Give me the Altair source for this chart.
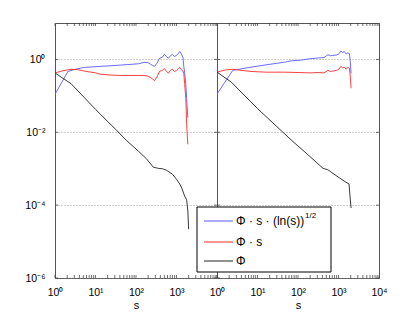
import altair as alt
import pandas as pd

# ---------------- data ----------------
# Left panel
L_blue_s = [1, 2.09, 3.16, 5.25, 13.8, 36.3, 63.1, 115, 158, 200, 251, 288, 331, 380, 447, 501, 562, 631,
            708, 794, 891, 1000, 1122, 1202, 1318, 1445, 1514, 1585, 1698, 1778, 1905]
L_blue_v = [0.110, 0.468, 0.537, 0.603, 0.646, 0.692, 0.724, 0.759, 0.832, 0.813, 0.692, 0.646, 0.794, 1.072,
            1.148, 1.380, 1.202, 1.072, 1.259, 1.380, 1.202, 1.288, 1.479, 1.660, 1.413, 1.122, 0.646, 0.447,
            0.209, 0.0851, 0.0251]
L_red_s = [1, 1.58, 2.51, 3.55, 5.25, 10, 13.8, 25.1, 36.3, 63.1, 115, 158, 200, 251, 288, 331, 380, 447,
           501, 562, 631, 708, 794, 891, 1000, 1122, 1202, 1318, 1445, 1514, 1585, 1698, 1778, 1905]
L_red_v = [0.427, 0.490, 0.537, 0.525, 0.479, 0.427, 0.389, 0.372, 0.363, 0.363, 0.363, 0.363, 0.347, 0.295,
           0.263, 0.331, 0.468, 0.501, 0.562, 0.479, 0.417, 0.501, 0.537, 0.468, 0.501, 0.562, 0.603, 0.525,
           0.479, 0.417, 0.219, 0.0851, 0.0166, 0.00468]
L_black_s = [1, 2.51, 10, 24.5, 31.6, 57.5, 115, 178, 269, 363, 447, 562, 794, 1000, 1202, 1349, 1585, 1778,
             1905, 1995]
L_black_v = [0.427, 0.214, 0.0427, 0.0158, 0.0120, 0.00603, 0.00302, 0.00191, 0.00110, 0.00102, 0.00100,
             0.000912, 0.000708, 0.000513, 0.000380, 0.000295, 0.000178, 0.000141, 0.0000692, 0.0000219]

# Right panel
R_blue_s = [1, 2.45, 6.31, 18.2, 44.7, 67.6, 117, 200, 316, 437, 550, 631, 724, 891, 1000, 1148, 1259, 1380,
            1549, 1698, 1862, 1950, 2042]
R_blue_v = [0.112, 0.501, 0.603, 0.724, 0.832, 0.912, 0.955, 1.047, 1.096, 1.122, 1.349, 1.259, 1.288, 1.318,
            1.380, 1.698, 1.549, 1.660, 1.413, 1.514, 1.445, 0.891, 0.417]
R_red_s = [1, 1.58, 2.45, 3.98, 6.92, 15.8, 44.7, 100, 200, 316, 437, 550, 631, 724, 891, 1000, 1148, 1259,
           1380, 1549, 1698, 1862, 1950, 2042]
R_red_v = [0.447, 0.513, 0.537, 0.501, 0.468, 0.447, 0.447, 0.437, 0.427, 0.437, 0.427, 0.501, 0.468, 0.479,
           0.501, 0.525, 0.646, 0.589, 0.617, 0.537, 0.603, 0.575, 0.355, 0.162]
R_black_s = [1, 2.24, 10, 67.6, 158, 417, 550, 776, 1380, 1820, 1905, 2042]
R_black_v = [0.447, 0.240, 0.0447, 0.00617, 0.00269, 0.00102, 0.000933, 0.000708, 0.000457, 0.000380,
             0.000200, 0.0000832]

# axis ticks / labels
x_major = [1, 10, 100, 1000, 10000]
x_minor = [k * 10 ** e for e in range(4) for k in range(2, 10)]
y_major = [1e-6, 1e-4, 1e-2, 1]
legend_labels = ["Φ · s · (ln(s))", "Φ · s", "Φ"]
legend_sup = "1/2"
x_title = "s"

# ---------------- styling ----------------
FONT = "Liberation Sans"
W, H = 162, 255
COLORS = ["#5a5aff", "#ff2a2a", "#222222"]
TL = 3  # inner tick length

xscale = alt.Scale(type="log", domain=[1, 10000], nice=False)
yscale = alt.Scale(type="log", domain=[1e-6, 10], nice=False)

x_label_expr = ("datum.value < 5 ? '10⁰' : datum.value < 50 ? '10¹' : datum.value < 500 ? '10²' : "
                "datum.value < 5000 ? '10³' : '10⁴'")
y_label_expr = ("datum.value < 1e-5 ? '10⁻⁶' : datum.value < 1e-3 ? '10⁻⁴' : "
                "datum.value < 1e-1 ? '10⁻²' : '10⁰'")


def panel(series, xlabels, show_y, legend=False):
    xaxis = alt.Axis(values=xlabels, labelExpr=x_label_expr, grid=False, ticks=False, domain=False,
                     labelPadding=9, labelFont=FONT, labelFontSize=10.5, labelColor="#000",
                     labelFlush=False, labelOverlap=False,
                     title=x_title, titleFont=FONT, titleFontSize=11, titleFontWeight="normal",
                     titlePadding=2, titleColor="#000")
    if show_y:
        yaxis = alt.Axis(values=y_major, labelExpr=y_label_expr, grid=True, gridDash=[1, 2],
                         gridColor="#8a8a8a", gridWidth=0.8, ticks=False, domain=False,
                         labelPadding=10, labelFont=FONT, labelFontSize=10.5, labelColor="#000",
                         title=None, minExtent=46, maxExtent=46, labelFlush=False, labelOverlap=False)
    else:
        yaxis = alt.Axis(values=y_major, labels=False, grid=True, gridDash=[1, 2], gridColor="#8a8a8a",
                         gridWidth=0.8, ticks=False, domain=False, title=None, minExtent=0, maxExtent=0)

    X = lambda f: alt.X(f, scale=xscale, axis=xaxis)
    Y = lambda f: alt.Y(f, scale=yscale, axis=yaxis)

    layers = []
    for i, (s, v) in enumerate(series):
        df = pd.DataFrame({"s": s, "v": v})
        layers.append(alt.Chart(df).mark_line(color=COLORS[i], strokeWidth=0.9, clip=True)
                      .encode(x=X("s:Q"), y=Y("v:Q")))

    # inner ticks
    tx = pd.DataFrame({"s": x_major + x_minor})
    ty = pd.DataFrame({"v": y_major})
    tick_style = dict(color="#333", strokeWidth=0.7)
    layers.append(alt.Chart(tx).mark_rule(**tick_style).encode(
        x=X("s:Q"), y=alt.value(H), y2=alt.value(H - TL)))
    layers.append(alt.Chart(tx).mark_rule(**tick_style).encode(
        x=X("s:Q"), y=alt.value(0), y2=alt.value(TL)))
    layers.append(alt.Chart(ty).mark_rule(**tick_style).encode(
        y=Y("v:Q"), x=alt.value(0), x2=alt.value(TL)))
    layers.append(alt.Chart(ty).mark_rule(**tick_style).encode(
        y=Y("v:Q"), x=alt.value(W), x2=alt.value(W - TL)))

    if legend:
        one = pd.DataFrame({"a": [0]})
        layers.append(alt.Chart(one).mark_rect(fill="white", stroke="black", strokeWidth=1).encode(
            x=alt.value(-20), x2=alt.value(114), y=alt.value(184), y2=alt.value(249)))
        rows = [198, 219, 238]
        for i, lab in enumerate(legend_labels):
            layers.append(alt.Chart(one).mark_rule(color=COLORS[i], strokeWidth=1).encode(
                x=alt.value(-13), x2=alt.value(16), y=alt.value(rows[i])))
            layers.append(alt.Chart(one).mark_text(text=lab, font=FONT, fontSize=12, align="left",
                                                   baseline="middle", color="#000").encode(
                x=alt.value(19), y=alt.value(rows[i])))
        layers.append(alt.Chart(one).mark_text(text=legend_sup, font=FONT, fontSize=8, align="left",
                                               baseline="middle", color="#000").encode(
            x=alt.value(88), y=alt.value(rows[0] - 5)))

    return alt.layer(*layers).properties(width=W, height=H)


left = panel([(L_blue_s, L_blue_v), (L_red_s, L_red_v), (L_black_s, L_black_v)],
             x_major[:4], show_y=True)
right = panel([(R_blue_s, R_blue_v), (R_red_s, R_red_v), (R_black_s, R_black_v)],
              x_major, show_y=False, legend=True)

chart = (alt.hconcat(left, right, spacing=0, bounds="flush")
         .properties(padding={"left": 0, "top": 14, "right": 5, "bottom": 0}, background="white")
         .configure(font=FONT)
         .configure_view(stroke="#555", strokeWidth=1))

chart.save("out.html", embed_options={"renderer": "svg", "actions": False})
